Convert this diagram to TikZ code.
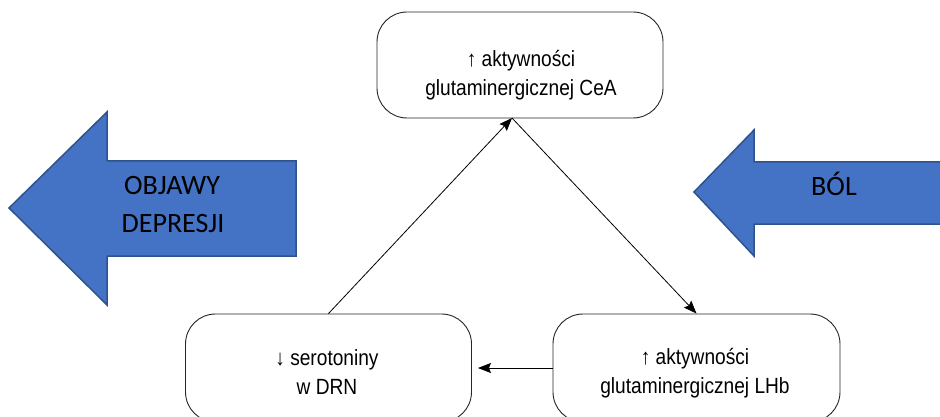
\documentclass[tikz,border=0pt]{standalone}
\usepackage{fontspec}
\usetikzlibrary{arrows.meta}
\newfontfamily\boxfont{Liberation Sans}[FakeStretch=0.87]
\newfontfamily\arrfont{Carlito}
\definecolor{arrblue}{HTML}{4472C4}
\definecolor{arredge}{HTML}{2F528F}
\begin{document}
\begin{tikzpicture}[x=1pt,y=-1pt,
  roundbox/.style={draw=black!85, line width=0.9pt, rounded corners=30pt, inner sep=0pt},
  boxtext/.style={font=\boxfont\fontsize{22pt}{29pt}\selectfont, align=center, inner sep=0pt},
  arrtext/.style={font=\arrfont\fontsize{28pt}{38pt}\selectfont, align=center, inner sep=0pt, anchor=base},
  conn/.style={draw=black, line width=0.8pt, -{Stealth[length=13pt,width=10pt,inset=2pt]}},
  bigarrow/.style={fill=arrblue, draw=arredge, line width=1.5pt}]
\useasboundingbox (0,0) rectangle (940,417);
\clip (0,0) rectangle (940,417);
\fill[white] (0,0) rectangle (940,417);
% big blue arrows
\draw[bigarrow] (9,208) -- (107,112) -- (107,161) -- (296,161) -- (296,256) -- (107,256) -- (107,305) -- cycle;
\node[arrtext] (objT1) at (172,194) {OBJAWY};
\node[arrtext] (objT2) at (173,232) {DEPRESJI};
\draw[bigarrow] (694,192) -- (754,130) -- (754,162) -- (950,162) -- (950,224) -- (754,224) -- (754,256) -- cycle;
\node[arrtext] (bolT) at (834,195) {BÓL};
% boxes
\node[roundbox, minimum width=286pt, minimum height=106pt] (cea) at (520,65) {};
\node[roundbox, minimum width=286pt, minimum height=108pt] (drn) at (328.5,368) {};
\node[roundbox, minimum width=287pt, minimum height=108pt] (lhb) at (696.5,368) {};
\node[boxtext] (ceaT) at (521,75) {↑ aktywności\\glutaminergicznej CeA};
\node[boxtext] (drnT) at (327,372) {↓ serotoniny\\w DRN};
\node[boxtext] (lhbT) at (695,373) {↑ aktywności\\glutaminergicznej LHb};
% connectors
\coordinate (apex) at (512,118);
\draw[conn] (drn.north) -- (apex);
\draw[conn] (apex) -- (lhb.north);
\draw[conn, shorten >=6pt] (lhb.west) -- (drn.east);
\end{tikzpicture}
\end{document}
